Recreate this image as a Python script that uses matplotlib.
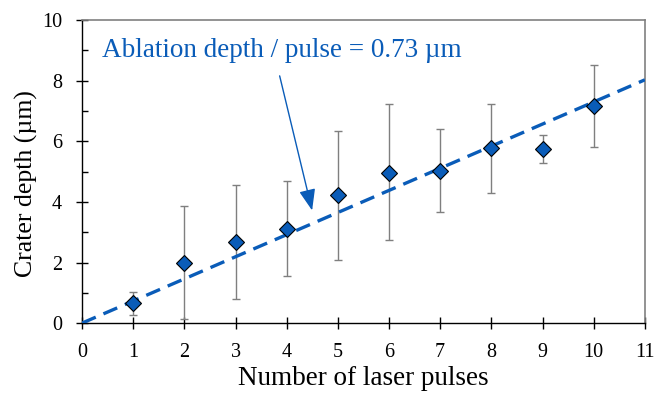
import matplotlib
matplotlib.use("Agg")
import matplotlib.pyplot as plt
import numpy as np

# Crater depth per number of pulses
pulses = [1, 2, 3, 4, 5, 6, 7, 8, 9, 10]
depth = [0.65, 1.99, 2.67, 3.12, 4.22, 4.97, 5.03, 5.79, 5.76, 7.17]
err_upper = [1.04, 3.86, 4.56, 4.69, 6.35, 7.22, 6.40, 7.24, 6.21, 8.51]
err_lower = [0.26, 0.12, 0.80, 1.57, 2.09, 2.74, 3.67, 4.31, 5.29, 5.81]
slope = 0.73
fit_x = [0, 11]

plt.rcParams['font.family'] = ['Liberation Serif', 'DejaVu Serif']

blue = '#0a5cb8'

fig = plt.figure(figsize=(6.56, 3.95), dpi=100)
ax = fig.add_axes([0.125, 0.182, 0.858, 0.767])

yerr = [np.array(depth) - np.array(err_lower), np.array(err_upper) - np.array(depth)]
ax.errorbar(pulses, depth, yerr=yerr, fmt='none', ecolor='#7f7f7f',
            elinewidth=1.0, capsize=3, capthick=1.0, zorder=2)

ax.plot(fit_x, [slope * x for x in fit_x], linestyle=(0, (4.5, 2.5)), color=blue,
        linewidth=2.4, zorder=3)

ax.plot(pulses, depth, linestyle='', marker='D', markersize=8,
        markerfacecolor=blue, markeredgecolor='black', markeredgewidth=0.8, zorder=4)

ax.annotate('', xy=(4.51, 3.63), xytext=(3.85, 8.25),
            arrowprops=dict(arrowstyle='-|>,head_length=1.3,head_width=0.5',
                            color=blue, lw=1.0))
ax.text(0.4, 9.0, 'Ablation depth / pulse = 0.73 µm', color=blue, fontsize=19.5,
        va='center', ha='left')

ax.set_xlim(0, 11)
ax.set_ylim(0, 10)
ax.set_xticks(range(0, 12))
ax.set_yticks(range(0, 11, 2))
ax.yaxis.set_minor_locator(matplotlib.ticker.MultipleLocator(1))
ax.tick_params(axis='x', direction='inout', length=9, width=1.0, labelsize=14.5, pad=10)
ax.tick_params(axis='y', which='major', direction='inout', length=9, width=1.0,
               labelsize=14.5, pad=10)
ax.tick_params(axis='y', which='minor', direction='in', length=4, width=1.0)

ax.set_xlabel('Number of laser pulses', fontsize=19.5, labelpad=3)
ax.set_ylabel('Crater depth (µm)', fontsize=18.5)
ax.yaxis.set_label_coords(-0.078, 0.462)

for side in ['top', 'right']:
    ax.spines[side].set_color('#808080')
    ax.spines[side].set_linewidth(1.2)
for side in ['left', 'bottom']:
    ax.spines[side].set_color('black')
    ax.spines[side].set_linewidth(1.0)

fig.savefig('out.png', dpi=100)
